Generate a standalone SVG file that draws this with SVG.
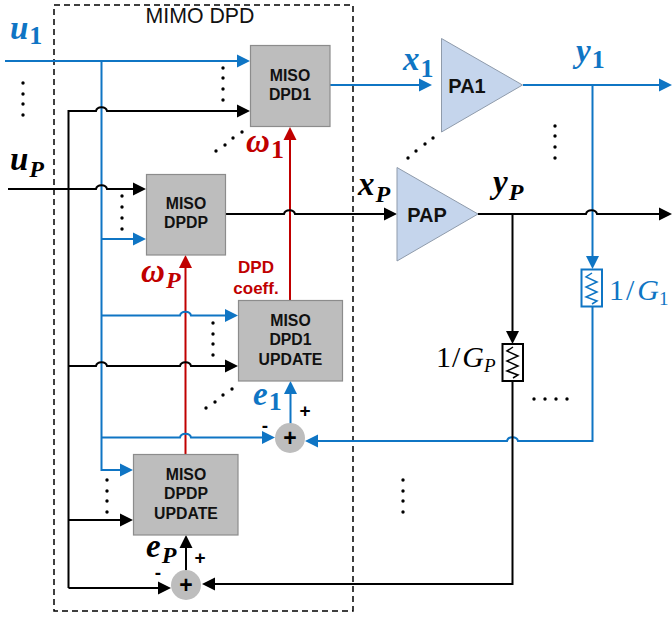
<svg xmlns="http://www.w3.org/2000/svg" width="672" height="618" viewBox="0 0 672 618">
<style>
.c{fill:none;stroke-width:2;stroke-linejoin:miter}
.b{stroke:#0f75c4}.k{stroke:#000}.r{stroke:#c00000}
.box{fill:#bdbdbd;stroke:#8c8c8c;stroke-width:1.2}
.tri{fill:#c5d5ec;stroke:#8f9bab;stroke-width:1}
.sum{fill:#bdbdbd}
.lbl{font-family:"Liberation Sans",Arial,sans-serif;font-weight:bold;font-size:15.8px;text-anchor:middle;fill:#111}
.pa{font-family:"Liberation Sans",Arial,sans-serif;font-weight:bold;font-size:20px;text-anchor:middle;fill:#111}
.red{font-family:"Liberation Sans",Arial,sans-serif;font-weight:bold;font-size:17px;text-anchor:middle;fill:#c00000}
.m{font-family:"Liberation Serif",serif;font-weight:bold;font-style:italic;font-size:33px}
.s{font-size:24px}
.n{font-size:26px;font-style:normal}
.g{font-family:"Liberation Serif",serif;font-size:30px}
.sym{font-family:"Liberation Sans",Arial,sans-serif;font-weight:bold;text-anchor:middle;fill:#000}
.d circle{r:1.7px;fill:#000}
</style>
<defs>
<marker id="ab" markerUnits="userSpaceOnUse" markerWidth="13" markerHeight="14" refX="10" refY="7" orient="auto"><path d="M0 0.5L13 7L0 13.500Z" fill="#0f75c4"/></marker>
<marker id="ak" markerUnits="userSpaceOnUse" markerWidth="13" markerHeight="14" refX="10" refY="7" orient="auto"><path d="M0 0.5L13 7L0 13.500Z" fill="#000"/></marker>
<marker id="ar" markerUnits="userSpaceOnUse" markerWidth="13" markerHeight="14" refX="10" refY="7" orient="auto"><path d="M0 0.5L13 7L0 13.500Z" fill="#c00000"/></marker>
</defs>
<rect id="mimo-boundary" x="54" y="5" width="299" height="606" fill="none" stroke="#000" stroke-width="1.5" stroke-dasharray="6 4"/>
<text id="mimo-title" x="200" y="23" font-family="Liberation Sans,Arial,sans-serif" font-size="21.300" text-anchor="middle" fill="#111">MIMO DPD</text>
<g id="connectors">
<path class="c r" d="M290 300V130" marker-end="url(#ar)"/>
<path class="c r" d="M185.500 454V258" marker-end="url(#ar)"/>
<path class="c b" d="M5 61H247" marker-end="url(#ab)"/>
<path class="c b" d="M101.500 61V470H130" marker-end="url(#ab)"/>
<path class="c b" d="M101.500 239H143" marker-end="url(#ab)"/>
<path class="c b" d="M101.500 315.500H180c1 -5 10 -5 11 0H235" marker-end="url(#ab)"/>
<path class="c b" d="M101.500 437.500H180c1 -5 10 -5 11 0H272" marker-end="url(#ab)"/>
<path class="c b" d="M330 85H429" marker-end="url(#ab)"/>
<path class="c b" d="M523 85H669" marker-end="url(#ab)"/>
<path class="c b" d="M592.500 85V266" marker-end="url(#ab)"/>
<path class="c b" d="M592.500 307V441H518c-1 -5 -10 -5 -11 0H308" marker-end="url(#ab)"/>
<path class="c b" d="M290.500 424V384" marker-end="url(#ab)"/>
<path class="c k" d="M68.500 588V111H96c1 -5 10 -5 11 0H247" marker-end="url(#ak)"/>
<path class="c k" d="M8 189H96c1 -5 10 -5 11 0H143" marker-end="url(#ak)"/>
<path class="c k" d="M226 214H284c1 -5 10 -5 11 0H394" marker-end="url(#ak)"/>
<path class="c k" d="M478 214H586c1 -5 10 -5 11 0H669" marker-end="url(#ak)"/>
<path class="c k" d="M68.500 366H96c1 -5 10 -5 11 0H180c1 -5 10 -5 11 0H235" marker-end="url(#ak)"/>
<path class="c k" d="M68.500 520H130" marker-end="url(#ak)"/>
<path class="c k" d="M68.500 588H168" marker-end="url(#ak)"/>
<path class="c k" d="M512.500 214V341" marker-end="url(#ak)"/>
<path class="c k" d="M512.500 381V584H205" marker-end="url(#ak)"/>
<path class="c k" d="M186 571V538" marker-end="url(#ak)"/>
</g>
<g id="miso-dpd1"><rect class="box" x="250.500" y="45.500" width="79.500" height="81"/><text class="lbl" x="290" y="81">MISO</text><text class="lbl" x="290" y="100">DPD1</text></g>
<g id="miso-dpdp"><rect class="box" x="146.500" y="174.500" width="79" height="80.500"/><text class="lbl" x="186" y="209">MISO</text><text class="lbl" x="186" y="228">DPDP</text></g>
<g id="miso-dpd1-update"><rect class="box" x="238.500" y="300.500" width="104" height="80.500"/><text class="lbl" x="290.500" y="326">MISO</text><text class="lbl" x="290.500" y="345">DPD1</text><text class="lbl" x="290.500" y="365">UPDATE</text></g>
<g id="miso-dpdp-update"><rect class="box" x="133.500" y="454.500" width="104.500" height="80.500"/><text class="lbl" x="186" y="480">MISO</text><text class="lbl" x="186" y="499">DPDP</text><text class="lbl" x="186" y="519">UPDATE</text></g>
<g id="pa1"><path class="tri" d="M441.500 38.500V132L522.500 85Z"/><text class="pa" x="467" y="93">PA1</text></g>
<g id="pap"><path class="tri" d="M397 167.500V261L478 214Z"/><text class="pa" x="427" y="222">PAP</text></g>
<g id="sum-1"><circle class="sum" cx="290" cy="438" r="15"/><text class="sym" x="290" y="446" font-size="23">+</text></g>
<g id="sum-p"><circle class="sum" cx="186" cy="585" r="15"/><text class="sym" x="186" y="593" font-size="23">+</text></g>
<g id="res-1"><rect x="581.500" y="269.500" width="20.500" height="37" fill="#fff" stroke="#0f75c4" stroke-width="2"/><path d="M592 273L586 277L597 282L586 287L597 292L586 297L597 301L592 304" fill="none" stroke="#0f75c4" stroke-width="1.500"/></g>
<g id="res-p"><rect x="502.500" y="344" width="20.500" height="37" fill="#fff" stroke="#000" stroke-width="2"/><path d="M513 347L507 351L518 356L507 361L518 366L507 371L518 375L513 378" fill="none" stroke="#000" stroke-width="1.500"/></g>
<g id="labels">
<text class="m" x="10" y="39" fill="#0f75c4">u<tspan class="n" dy="5" dx="1">1</tspan></text>
<text class="m" x="10" y="170" fill="#000">u<tspan class="s" dy="7" dx="1">P</tspan></text>
<text class="m" x="403" y="70" fill="#0f75c4">x<tspan class="n" dy="7" dx="1">1</tspan></text>
<text class="m" x="358" y="195" fill="#000">x<tspan class="s" dy="7" dx="1">P</tspan></text>
<text class="m" x="576" y="62" fill="#0f75c4">y<tspan class="n" dy="6" dx="1">1</tspan></text>
<text class="m" x="493" y="193" fill="#000">y<tspan class="s" dy="7" dx="1">P</tspan></text>
<text class="m" x="246" y="152" fill="#c00000">ω<tspan class="n" dy="6" dx="1">1</tspan></text>
<text class="m" x="141" y="282" fill="#c00000">ω<tspan class="s" dy="6" dx="1">P</tspan></text>
<text class="m" x="253" y="405" fill="#0f75c4">e<tspan class="n" dy="5" dx="1">1</tspan></text>
<text class="m" x="146" y="557" fill="#000">e<tspan class="s" dy="6" dx="1">P</tspan></text>
<text class="red" x="256" y="273">DPD</text><text class="red" x="256" y="294">coeff.</text>
<text class="g" x="609" y="300" fill="#0f75c4">1<tspan dx="2">/</tspan><tspan dx="3" font-style="italic">G</tspan><tspan font-size="19" dy="5">1</tspan></text>
<text class="g" x="436" y="367" fill="#000">1<tspan dx="1">/</tspan><tspan dx="2" font-style="italic">G</tspan><tspan font-size="19" font-style="italic" dy="5">P</tspan></text>
<text class="sym" x="305" y="417" font-size="19">+</text>
<text class="sym" x="200" y="564" font-size="19">+</text>
<text class="sym" x="265" y="432" font-size="19">-</text>
<text class="sym" x="158" y="579" font-size="19">-</text>
</g>
<g id="dots" class="d">
<circle cx="23" cy="83"/><circle cx="23" cy="94"/><circle cx="23" cy="104"/><circle cx="23" cy="115"/>
<circle cx="223" cy="68"/><circle cx="223" cy="78"/><circle cx="223" cy="89"/><circle cx="223" cy="100"/>
<circle cx="216" cy="151"/><circle cx="225" cy="145"/><circle cx="233" cy="138"/><circle cx="242" cy="132"/>
<circle cx="122" cy="196"/><circle cx="122" cy="207"/><circle cx="122" cy="218"/><circle cx="122" cy="229"/>
<circle cx="408" cy="158"/><circle cx="416" cy="151"/><circle cx="425" cy="144"/><circle cx="433" cy="138"/>
<circle cx="555" cy="126"/><circle cx="555" cy="136"/><circle cx="555" cy="147"/><circle cx="555" cy="158"/>
<circle cx="213" cy="323"/><circle cx="213" cy="334"/><circle cx="213" cy="344"/><circle cx="213" cy="355"/>
<circle cx="206" cy="408"/><circle cx="215" cy="402"/><circle cx="223" cy="395"/><circle cx="232" cy="389"/>
<circle cx="107" cy="480"/><circle cx="107" cy="491"/><circle cx="107" cy="501"/><circle cx="107" cy="512"/>
<circle cx="534" cy="399"/><circle cx="545" cy="399"/><circle cx="556" cy="399"/><circle cx="567" cy="399"/>
<circle cx="403" cy="480"/><circle cx="403" cy="491"/><circle cx="403" cy="501"/><circle cx="403" cy="512"/>
</g>
</svg>
